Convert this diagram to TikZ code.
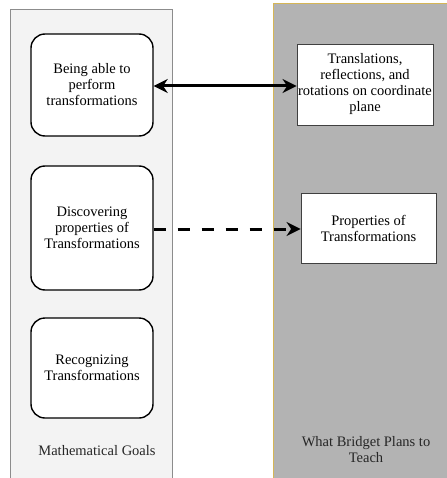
\documentclass[tikz,border=0pt]{standalone}
\usepackage{fontspec}
\setmainfont{Liberation Serif}
\usetikzlibrary{arrows.meta}
\definecolor{lpanel}{HTML}{F3F3F3}
\definecolor{rpanel}{HTML}{B3B3B3}
\definecolor{gold}{HTML}{D6B656}
\begin{document}
\begin{tikzpicture}[x=1pt,y=-1pt,
  goal/.style={draw=black,line width=1.4pt,fill=white,rounded corners=14pt,minimum width=122pt,align=center,font=\fontsize{14.5}{16}\selectfont,inner sep=0pt},
  plan/.style={draw=black!75,line width=0.9pt,fill=white,align=center,font=\fontsize{14.5}{16}\selectfont,inner sep=0pt},
  lbl/.style={align=center,font=\fontsize{14.5}{16}\selectfont,text=black!85}]
\useasboundingbox (0,0) rectangle (446,478);
\fill[white] (0,0) rectangle (446,478);
% panels
\filldraw[fill=lpanel,draw=black!45,line width=0.8pt] (10,490) -- (10,9) -- (172,9) -- (172,490);
\fill[rpanel] (273,4) rectangle (460,490);
\draw[gold,line width=1pt] (273,490) -- (273,4) -- (460,4);
% goal boxes
\node[goal,minimum height=102pt] (g1) at (92,85) {Being able to\\perform\\transformations};
\node[goal,minimum height=124pt] (g2) at (92,228) {Discovering\\properties of\\Transformations};
\node[goal,minimum height=100pt] (g3) at (92,368) {Recognizing\\Transformations};
% plan boxes
\node[plan,minimum width=136pt,minimum height=81pt] (p1) at (365,84.5) {Translations,\\ reflections, and\\rotations on coordinate\\plane};
\node[plan,minimum width=135pt,minimum height=70pt] (p2) at (368.5,228) {Properties of\\Transformations};
% labels
\node[lbl] (lg) at (97,451) {Mathematical Goals};
\node[lbl] (lp) at (366,449.5) {What Bridget Plans to\\Teach};
% connectors
\draw[{Stealth[length=14pt,width=14pt]}-{Stealth[length=14pt,width=14pt]},line width=3pt] (g1.east |- 0,86) -- (p1.west |- 0,86);
\draw[-{Stealth[length=14pt,width=14pt]},line width=3pt,dash pattern=on 12pt off 12pt] (g2.east |- 0,229) -- (p2.west |- 0,229);
\end{tikzpicture}
\end{document}
